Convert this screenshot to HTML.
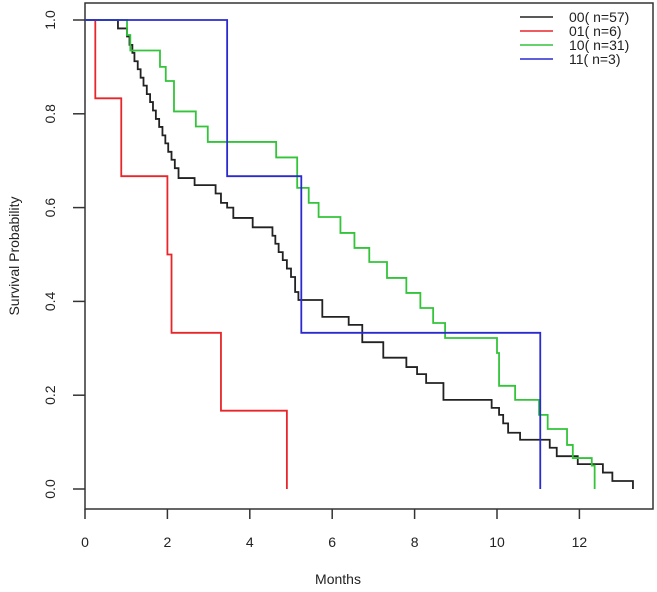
<!DOCTYPE html>
<html><head><meta charset="utf-8"><style>
body{margin:0;background:#fff}
svg{display:block;font-family:"Liberation Sans",Arial,sans-serif}
</style></head><body>
<svg id="chart" width="657" height="592"></svg>
<script>
const xTicks=[0,2,4,6,8,10,12];
const yTicks=[0.0,0.2,0.4,0.6,0.8,1.0];
const seriesNames=["00( n=57)","01( n=6)","10( n=31)","11( n=3)"];
const seriesColors=["#222","#e8262a","#33c43a","#2a2ad0"];
const t00=[0,0.8,1.02,1.08,1.15,1.2,1.28,1.35,1.42,1.5,1.58,1.65,1.72,1.8,1.88,1.95,2.02,2.1,2.18,2.27,2.66,3.17,3.3,3.45,3.6,4.07,4.55,4.62,4.7,4.8,4.9,5.0,5.1,5.18,5.76,6.4,6.73,7.24,7.8,8.06,8.28,8.7,9.87,10.05,10.15,10.27,10.56,11.28,11.45,11.96,12.57,12.8,13.3];
const s00=[1,0.982,0.965,0.947,0.93,0.912,0.895,0.877,0.86,0.842,0.825,0.807,0.789,0.772,0.754,0.737,0.719,0.702,0.684,0.663,0.648,0.63,0.61,0.6,0.578,0.558,0.54,0.523,0.505,0.488,0.47,0.452,0.42,0.403,0.367,0.35,0.313,0.28,0.26,0.245,0.226,0.19,0.173,0.158,0.14,0.12,0.105,0.088,0.07,0.053,0.035,0.017,0.0];
const t01=[0,0.25,0.88,2.0,2.1,3.3,4.9];
const s01=[1,0.833,0.667,0.5,0.333,0.167,0];
const t10=[0,1.02,1.1,1.82,1.96,2.16,2.69,2.98,4.64,5.15,5.43,5.67,6.2,6.54,6.9,7.33,7.8,8.14,8.45,8.74,10.0,10.05,10.44,11.02,11.23,11.7,11.84,12.3,12.37];
const s10=[1,0.968,0.935,0.9,0.87,0.805,0.773,0.74,0.707,0.642,0.61,0.58,0.546,0.514,0.484,0.45,0.418,0.386,0.354,0.322,0.29,0.22,0.19,0.158,0.128,0.094,0.066,0.05,0];
const t11=[0,3.45,5.25,11.05];
const s11=[1,0.667,0.333,0];
const allT=[t00,t01,t10,t11], allS=[s00,s01,s10,s11];

const X=t=>85+t*41.2;
const Y=s=>489-s*469;
const NS="http://www.w3.org/2000/svg";
const svg=document.getElementById('chart');
function mk(tag,attrs,parent){const e=document.createElementNS(NS,tag);for(const k in attrs)e.setAttribute(k,attrs[k]);(parent||svg).appendChild(e);return e;}

const frame=mk('path',{d:'M85,3 H653 V509 H85 Z',fill:'none',stroke:'#333','stroke-width':1.5});



xTicks.forEach(v=>{
  const tk=mk('line',{x1:X(v),x2:X(v),y1:509,y2:519,stroke:'#333','stroke-width':1.5});
  
  
  const tx=mk('text',{x:X(v),y:547,'text-anchor':'middle','font-size':14,fill:'#222'});
  tx.textContent=v;
  
  
});
yTicks.forEach(v=>{
  const tk=mk('line',{x1:73,x2:85,y1:Y(v),y2:Y(v),stroke:'#333','stroke-width':1.5});
  
  
  const tx=mk('text',{x:0,y:0,'text-anchor':'middle','font-size':14,fill:'#222',transform:`translate(55,${Y(v)}) rotate(-90)`});
  tx.textContent=v.toFixed(1);
  
  
});
const xl=mk('text',{x:338,y:584,'text-anchor':'middle','font-size':14,fill:'#222'});
xl.textContent='Months';


const yl=mk('text',{x:0,y:0,'text-anchor':'middle','font-size':14,fill:'#222',transform:'translate(19,256) rotate(-90)'});
yl.textContent='Survival Probability';



allT.forEach((ts,i)=>{
  const ss=allS[i];
  let d=`M${X(ts[0])},${Y(ss[0])}`;
  for(let j=1;j<ts.length;j++){d+=` H${X(ts[j])} V${Y(ss[j])}`;}
  const p=mk('path',{d:d,fill:'none',stroke:seriesColors[i],'stroke-width':1.8});
  
  
});

seriesNames.forEach((n,i)=>{
  const y=17+i*14;
  const ln=mk('line',{x1:520,x2:553,y1:y,y2:y,stroke:seriesColors[i],'stroke-width':1.5});
  
  
  const tx=mk('text',{x:569,y:y+5,'font-size':14,fill:'#222'});
  tx.textContent=n;
  
  
});
</script>
</body></html>
